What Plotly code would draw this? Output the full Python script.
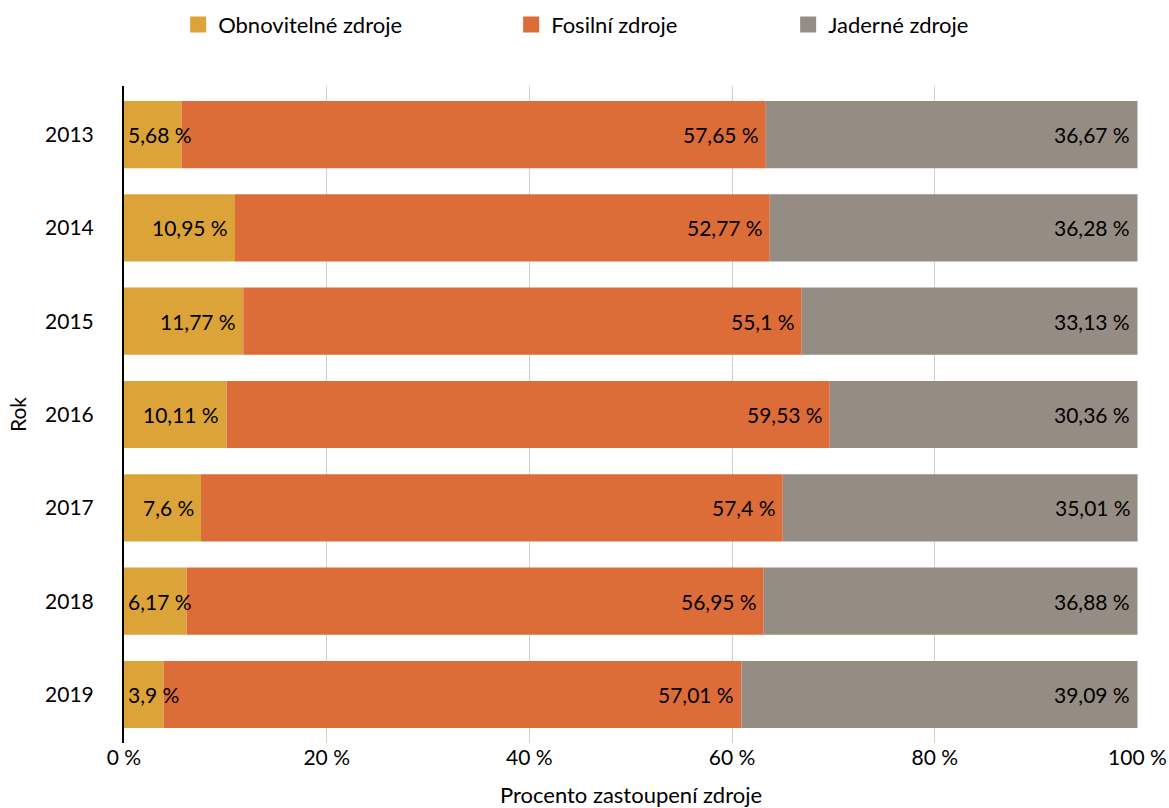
import plotly.graph_objects as go

# Share of electricity sources by year (percent)
years = ["2013", "2014", "2015", "2016", "2017", "2018", "2019"]
obnovitelne = [5.68, 10.95, 11.77, 10.11, 7.6, 6.17, 3.9]
fosilni = [57.65, 52.77, 55.1, 59.53, 57.4, 56.95, 57.01]
jaderne = [36.67, 36.28, 33.13, 30.36, 35.01, 36.88, 39.09]

series = [
    ("Obnovitelné zdroje", obnovitelne, "#DCA339"),
    ("Fosilní zdroje", fosilni, "#DC6D38"),
    ("Jaderné zdroje", jaderne, "#958C83"),
]
legend_widths = [288, 232, 160]

FONT = "Lato"
FS = 21
FS_TEXT = 22
PLOT_W = 1169 - 124 - 31  # plot area width in px

# one row per year, first year on top
rows = list(range(len(years)))


def fmt(v):
    s = f"{v:.2f}".rstrip("0").rstrip(".")
    return s.replace(".", ",") + " %"


def text_px(s):
    # rough rendered width of a label
    w = 0
    for ch in s:
        if ch.isdigit():
            w += 0.58
        elif ch == "%":
            w += 0.75
        else:
            w += 0.22
    return w * FS


fig = go.Figure()
annotations = []
base = [0.0] * len(years)
for (name, vals, color), lw in zip(series, legend_widths):
    fig.add_trace(go.Bar(
        y=rows, x=vals, base=base[:], orientation="h", name=name,
        marker=dict(color=color, line=dict(width=0)), width=0.72,
        showlegend=False, hoverinfo="x+name",
    ))
    # legend entry with a larger square swatch
    fig.add_trace(go.Scatter(
        x=[None], y=[None], mode="markers", name=name,
        marker=dict(symbol="square", size=17, color=color),
        legendwidth=lw, showlegend=True,
    ))
    for i, v in enumerate(vals):
        label = fmt(v)
        seg_px = v / 100 * PLOT_W
        end = base[i] + v
        if text_px(label) + 10 <= seg_px:
            annotations.append(dict(x=end, y=rows[i], xref="x", yref="y",
                                    text=label, xanchor="right",
                                    xshift=-5, showarrow=False,
                                    font=dict(family=FONT, size=FS, color="#000000")))
        else:
            annotations.append(dict(x=base[i], y=rows[i], xref="x", yref="y",
                                    text=label, xanchor="left",
                                    xshift=2, showarrow=False,
                                    font=dict(family=FONT, size=FS, color="#000000")))
        base[i] = end

fig.update_layout(
    width=1169, height=808,
    margin=dict(l=124, r=31, t=86, b=65, autoexpand=False),
    plot_bgcolor="white", paper_bgcolor="white",
    barmode="overlay",
    font=dict(family=FONT, size=FS, color="#000000"),
    annotations=annotations,
    legend=dict(orientation="h", x=0.0534, xanchor="left", y=0.9955, yanchor="top",
                yref="container", font=dict(family=FONT, size=FS_TEXT),
                itemclick=False),
)
fig.update_xaxes(
    type="linear", automargin=False,
    range=[0, 100.05], tickvals=[0, 20, 40, 60, 80, 100],
    ticktext=["0 %", "20 %", "40 %", "60 %", "80 %", "100 %"],
    showgrid=True, gridcolor="rgba(0,0,0,0.18)", gridwidth=1,
    zeroline=False, showline=False, layer="above traces",
    title=dict(text="Procento zastoupení zdroje", standoff=24,
               font=dict(family=FONT, size=FS_TEXT)),
)
fig.update_yaxes(
    type="linear", automargin=False,
    tickvals=rows, ticktext=years,
    range=[6.52, -0.52], showgrid=False, zeroline=False,
    showline=True, linecolor="#000000", linewidth=2, layer="above traces",
    ticks="", ticklabelstandoff=24,
    title=dict(text="Rok", standoff=13, font=dict(family=FONT, size=FS)),
)

fig.write_html("out.html")
